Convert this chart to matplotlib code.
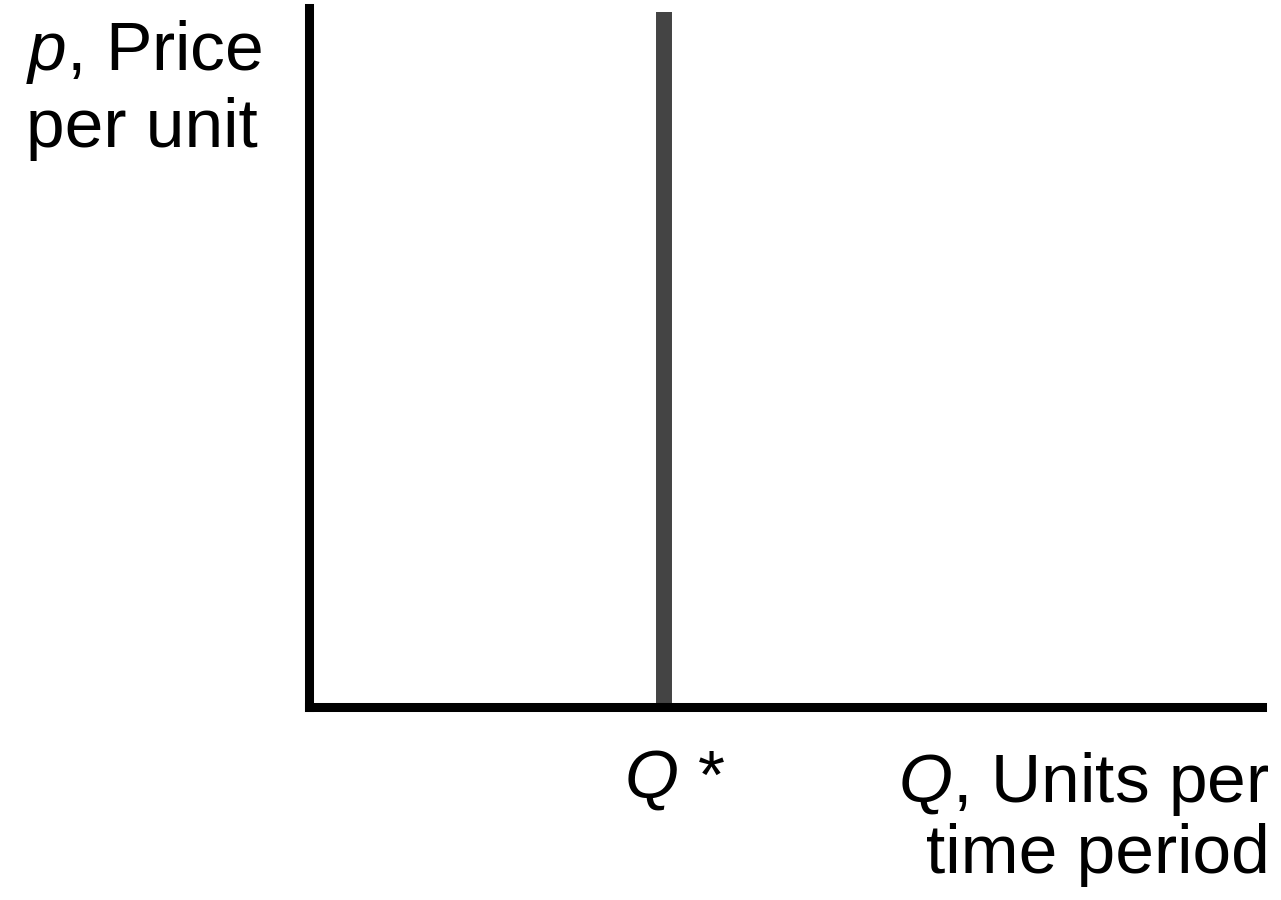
import matplotlib.pyplot as plt

plt.rcParams['font.family'] = ['Liberation Sans', 'DejaVu Sans']
plt.rcParams['mathtext.fontset'] = 'custom'
plt.rcParams['mathtext.rm'] = 'Liberation Sans'
plt.rcParams['mathtext.it'] = 'Liberation Sans:italic'

# vertical supply curve at Q*
q_star = 37.25
supply_q = [q_star, q_star]
supply_p = [0, 99.4]

fig = plt.figure(figsize=(12.81, 9), dpi=100)
ax = fig.add_axes([309 / 1281, 1 - 707 / 900, (1262 - 309) / 1281, (707 - 8) / 900])

ax.plot(supply_q, supply_p, color='#444444', linewidth=11.5, solid_capstyle='butt')

ax.set_xlim(0, 100)
ax.set_ylim(0, 100)
for side in ['top', 'right']:
    ax.spines[side].set_visible(False)
for side in ['left', 'bottom']:
    ax.spines[side].set_linewidth(6.5)
    ax.spines[side].set_color('black')
    ax.spines[side].set_capstyle('projecting')
ax.set_xticks([])
ax.set_yticks([])

fs = 50
fig.text(262 / 1281, 1 - 147 / 900, '$p$, Price\nper unit', ha='right', va='baseline',
         fontsize=fs, linespacing=1.22, multialignment='left')
fig.text(675 / 1281, 1 - 798 / 900, '$Q$ *', ha='center', va='baseline', fontsize=fs)
fig.text(1270 / 1281, 1 - 873 / 900, '$Q$, Units per\ntime period', ha='right', va='baseline',
         fontsize=fs, linespacing=1.1, multialignment='right')

plt.savefig('out.png', dpi=100)
